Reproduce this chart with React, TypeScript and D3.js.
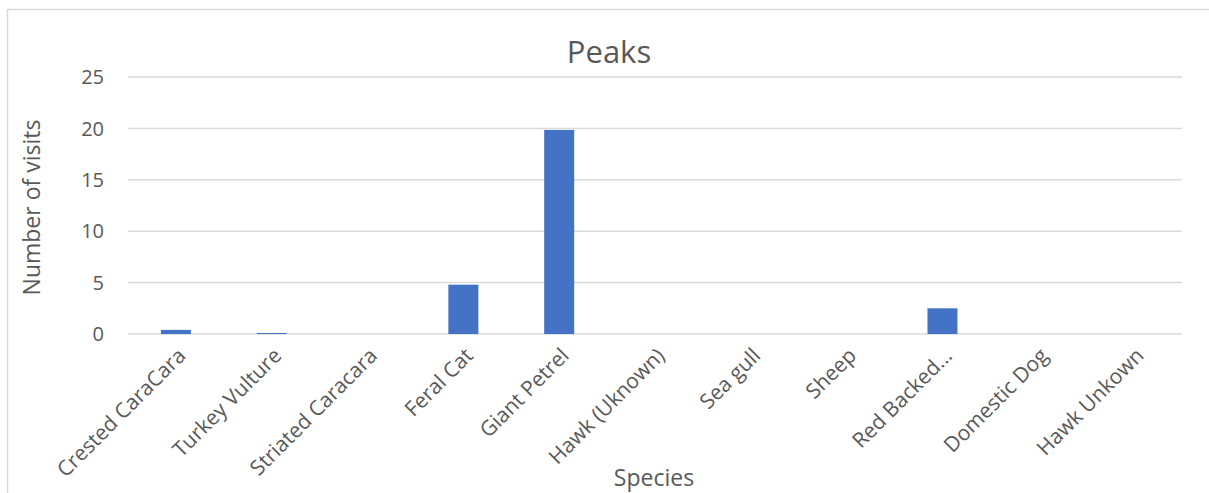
import React, { useEffect, useRef } from 'react';
import * as d3 from 'd3';

const species = [
  'Crested CaraCara', 'Turkey Vulture', 'Striated Caracara', 'Feral Cat', 'Giant Petrel',
  'Hawk (Uknown)', 'Sea gull', 'Sheep', 'Red Backed...', 'Domestic Dog', 'Hawk Unkown',
];
const visits = [0.4, 0.1, 0, 4.8, 19.85, 0, 0, 0, 2.5, 0, 0];
const yTicks = [0, 5, 10, 15, 20, 25];

const width = 1209;
const height = 493;
const font = '"Open Sans", sans-serif';
const textColor = '#595959';
const gridColor = '#d9d9d9';

function App() {
  const ref = useRef<SVGSVGElement>(null);

  useEffect(() => {
    if (!ref.current) return;
    const svg = d3.select(ref.current);
    svg.selectAll('*').remove();

    const left = 128, right = 1182, top = 77, bottom = 334;

    const x = d3.scaleBand().domain(species).range([left, right]).paddingInner(0.687).paddingOuter(0.3435);
    const y = d3.scaleLinear().domain([0, 25]).range([bottom, top]);

    // chart frame
    svg.append('path')
      .attr('d', `M7.5,${height} V9.5 H${width}`)
      .attr('fill', 'none')
      .attr('stroke', gridColor)
      .attr('stroke-width', 1.5);

    svg.append('text')
      .attr('x', 609)
      .attr('y', 63)
      .attr('text-anchor', 'middle')
      .style('font-family', font)
      .style('font-size', '31px')
      .attr('fill', textColor)
      .text('Peaks');

    svg.append('g').selectAll('line')
      .data(yTicks)
      .enter()
      .append('line')
      .attr('x1', left)
      .attr('x2', right)
      .attr('y1', d => y(d))
      .attr('y2', d => y(d))
      .attr('stroke', gridColor)
      .attr('stroke-width', 1.5);

    svg.append('g').selectAll('text')
      .data(yTicks)
      .enter()
      .append('text')
      .attr('x', 104)
      .attr('y', d => y(d))
      .attr('dy', '0.36em')
      .attr('text-anchor', 'end')
      .style('font-family', font)
      .style('font-size', '20px')
      .attr('fill', textColor)
      .text(d => d);

    svg.append('g').selectAll('rect')
      .data(visits)
      .enter()
      .append('rect')
      .attr('x', (d, i) => x(species[i])!)
      .attr('y', d => y(d))
      .attr('width', x.bandwidth())
      .attr('height', d => bottom - y(d))
      .attr('fill', '#4472c4');

    svg.append('g').selectAll('text')
      .data(species)
      .enter()
      .append('text')
      .attr('transform', d => `translate(${x(d)! + x.bandwidth() / 2 + 11}, 357) rotate(-45)`)
      .attr('text-anchor', 'end')
      .style('font-family', font)
      .style('font-size', '21px')
      .attr('fill', textColor)
      .text(d => d);

    svg.append('text')
      .attr('transform', `translate(40, ${(top + bottom) / 2 + 2}) rotate(-90)`)
      .attr('text-anchor', 'middle')
      .style('font-family', font)
      .style('font-size', '23px')
      .attr('fill', textColor)
      .text('Number of visits');

    svg.append('text')
      .attr('x', 654)
      .attr('y', 486)
      .attr('text-anchor', 'middle')
      .style('font-family', font)
      .style('font-size', '23px')
      .attr('fill', textColor)
      .text('Species');
  }, []);

  return (
    <div style={{ position: 'absolute', left: 0, top: 0 }}>
      <svg ref={ref} width={width} height={height} style={{ display: 'block', background: '#fff' }}></svg>
    </div>
  );
}

export default App;
